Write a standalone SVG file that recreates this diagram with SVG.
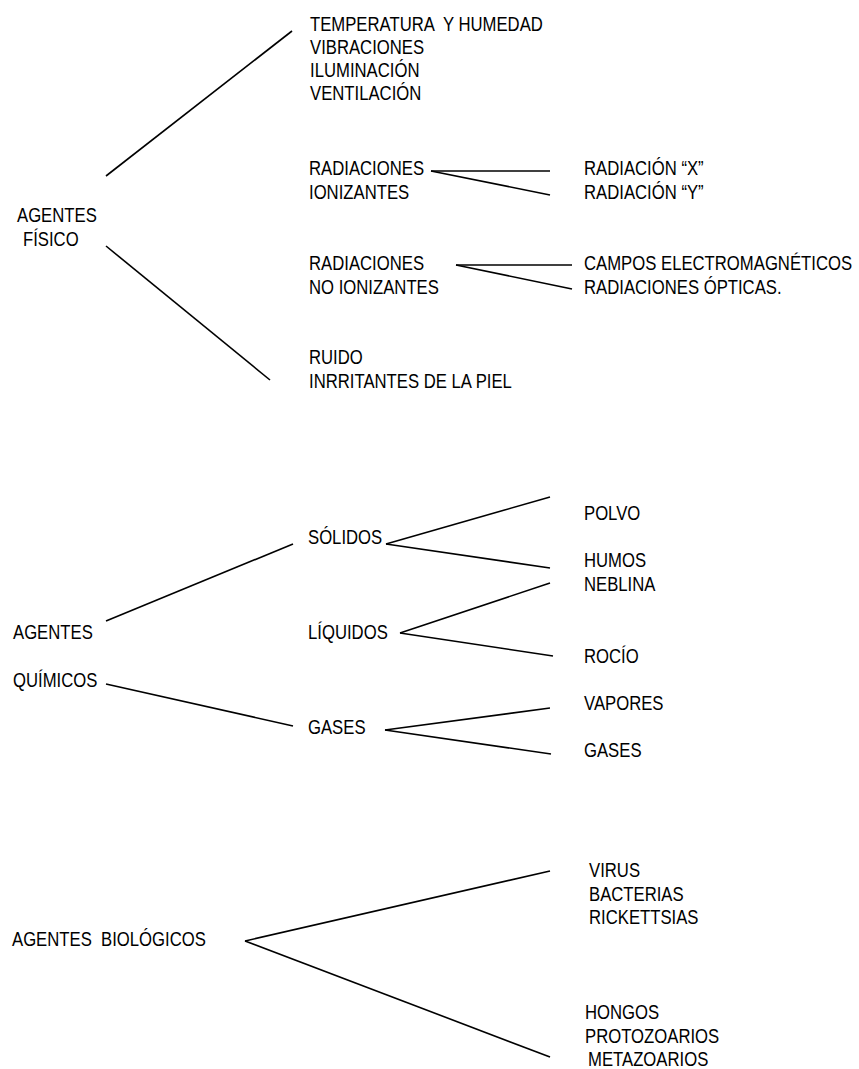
<svg xmlns="http://www.w3.org/2000/svg" width="859" height="1069" viewBox="0 0 859 1069">
<style>
text{font-family:"Liberation Sans",Arial,sans-serif;font-size:19.5px;fill:#000;white-space:pre}
line{stroke:#000;stroke-width:1.6}
</style>
<rect width="859" height="1069" fill="#fff"/>
<g id="connectors">
<line x1="106" y1="176" x2="292" y2="31"/>
<line x1="106" y1="246" x2="270" y2="380"/>
<line x1="431" y1="171" x2="550" y2="171"/>
<line x1="431" y1="171" x2="550" y2="195"/>
<line x1="456" y1="265" x2="572" y2="265"/>
<line x1="456" y1="265" x2="572" y2="289"/>
<line x1="106" y1="621" x2="293" y2="544"/>
<line x1="386" y1="544" x2="550" y2="497"/>
<line x1="386" y1="544" x2="550" y2="568"/>
<line x1="400" y1="633" x2="550" y2="583"/>
<line x1="400" y1="633" x2="553" y2="656"/>
<line x1="106" y1="684" x2="293" y2="726"/>
<line x1="385" y1="730" x2="550" y2="708"/>
<line x1="385" y1="730" x2="551" y2="754"/>
<line x1="245" y1="941" x2="550" y2="871"/>
<line x1="245" y1="941" x2="550" y2="1057"/>
</g>
<g id="fisico"><text transform="translate(17,222) scale(0.857,1)">AGENTES</text><text transform="translate(23,246) scale(0.857,1)">FÍSICO</text></g>
<g id="generales"><text transform="translate(310,31) scale(0.857,1)">TEMPERATURA  Y HUMEDAD</text><text transform="translate(310,54) scale(0.857,1)">VIBRACIONES</text><text transform="translate(310,77) scale(0.857,1)">ILUMINACIÓN</text><text transform="translate(310,100) scale(0.857,1)">VENTILACIÓN</text></g>
<g id="ionizantes"><text transform="translate(309,175) scale(0.857,1)">RADIACIONES</text><text transform="translate(309,199) scale(0.857,1)">IONIZANTES</text></g>
<g id="rayos"><text transform="translate(584,175) scale(0.857,1)">RADIACIÓN “X”</text><text transform="translate(584,199) scale(0.857,1)">RADIACIÓN “Y”</text></g>
<g id="noionizantes"><text transform="translate(309,270) scale(0.857,1)">RADIACIONES</text><text transform="translate(309,294) scale(0.857,1)">NO IONIZANTES</text></g>
<g id="campos"><text transform="translate(584,270) scale(0.857,1)">CAMPOS ELECTROMAGNÉTICOS</text><text transform="translate(584,294) scale(0.857,1)">RADIACIONES ÓPTICAS.</text></g>
<g id="ruido"><text transform="translate(309,364) scale(0.857,1)">RUIDO</text><text transform="translate(309,388) scale(0.857,1)">INRRITANTES DE LA PIEL</text></g>
<g id="quimicos"><text transform="translate(13,639) scale(0.857,1)">AGENTES</text><text transform="translate(13,687) scale(0.857,1)">QUÍMICOS</text></g>
<g id="solidos"><text transform="translate(308,544) scale(0.857,1)">SÓLIDOS</text></g>
<g id="polvo"><text transform="translate(584,520) scale(0.857,1)">POLVO</text></g>
<g id="humos"><text transform="translate(584,567) scale(0.857,1)">HUMOS</text><text transform="translate(584,591) scale(0.857,1)">NEBLINA</text></g>
<g id="liquidos"><text transform="translate(308,639) scale(0.857,1)">LÍQUIDOS</text></g>
<g id="rocio"><text transform="translate(584,663) scale(0.857,1)">ROCÍO</text></g>
<g id="gases"><text transform="translate(308,734) scale(0.857,1)">GASES</text></g>
<g id="vapores"><text transform="translate(584,710) scale(0.857,1)">VAPORES</text></g>
<g id="gases2"><text transform="translate(584,757) scale(0.857,1)">GASES</text></g>
<g id="biologicos"><text transform="translate(12,946) scale(0.857,1)">AGENTES  BIOLÓGICOS</text></g>
<g id="virus"><text transform="translate(589,877) scale(0.857,1)">VIRUS</text><text transform="translate(589,901) scale(0.857,1)">BACTERIAS</text><text transform="translate(589,924) scale(0.857,1)">RICKETTSIAS</text></g>
<g id="hongos"><text transform="translate(585,1019) scale(0.857,1)">HONGOS</text><text transform="translate(585,1043) scale(0.857,1)">PROTOZOARIOS</text><text transform="translate(588,1066) scale(0.857,1)">METAZOARIOS</text></g>
</svg>
